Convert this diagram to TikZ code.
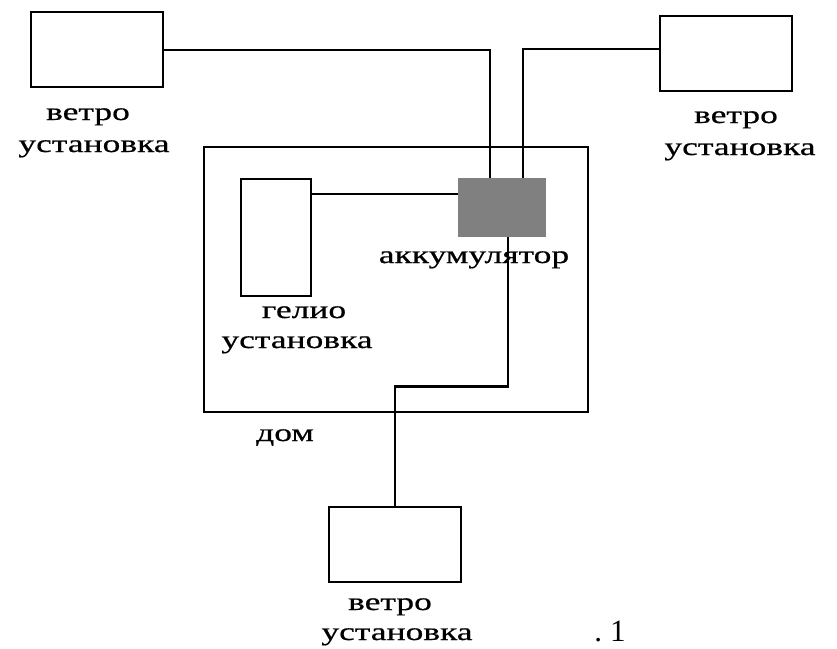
\documentclass[tikz,border=0pt]{standalone}
\usepackage{fontspec}
\setmainfont{Liberation Serif}
\newfontfamily\lblfont{Liberation Serif}[FakeStretch=1.42,FakeBold=0.6]
\definecolor{accgray}{RGB}{128,128,128}
\begin{document}
\begin{tikzpicture}[x=1pt,y=-1pt,
  box/.style={draw=black,line width=2.2pt,fill=white,inner sep=0pt,anchor=north west},
  wire/.style={draw=black,line width=2.2pt},
  lbl/.style={anchor=base,inner sep=0pt,font=\lblfont\fontsize{25}{28}\selectfont}]
\useasboundingbox (0,0) rectangle (837,648);
% house
\node[box,minimum width=384pt,minimum height=265pt] (house) at (203,146) {};
% wind units
\node[box,minimum width=132pt,minimum height=75pt] (w1) at (30,11) {};
\node[box,minimum width=132pt,minimum height=75pt] (w2) at (659,15) {};
\node[box,minimum width=132pt,minimum height=75pt] (w3) at (328,506) {};
% solar unit
\node[box,minimum width=70pt,minimum height=117pt] (helio) at (240,178) {};
% accumulator
\node[fill=accgray,inner sep=0pt,anchor=north west,minimum width=88pt,minimum height=59pt] (acc) at (458,178) {};
% connectors
\draw[wire] (w1.east) -| ([xshift=32pt]acc.north west);
\draw[wire] ([yshift=4.5pt]w2.west) -| ([xshift=65pt]acc.north west);
\draw[wire] ([yshift=-16pt]helio.north east) -- ([yshift=-16pt]acc.north west);
\draw[wire] ([xshift=50pt]acc.south west) -- ++(0,149) -| (w3.north);
% labels
\node[lbl] (l1a) at (88,120) {ветро};
\node[lbl] (l1b) at (94,152) {установка};
\node[lbl] (l2a) at (736,123) {ветро};
\node[lbl] (l2b) at (740,155) {установка};
\node[lbl] (l3a) at (390,610) {ветро};
\node[lbl] (l3b) at (397,640) {установка};
\node[lbl] (lacc) at (474,263) {аккумулятор};
\node[lbl] (lh1) at (304,318) {гелио};
\node[lbl] (lh2) at (297,348) {установка};
\node[lbl] (ldom) at (285,441) {дом};
\node[anchor=base,inner sep=0pt,font=\fontsize{31}{34}\selectfont] (num) at (610,641) {.\hspace{8pt}1};
\end{tikzpicture}
\end{document}
